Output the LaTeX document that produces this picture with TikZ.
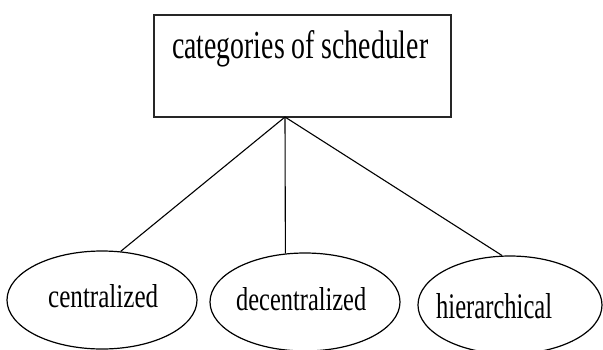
\documentclass[tikz,border=0pt]{standalone}
\usepackage{fontspec}
\setmainfont{Liberation Serif}
\usetikzlibrary{shapes.geometric}
\begin{document}
\begin{tikzpicture}[x=1pt,y=-1pt,
  catbox/.style={draw=black!85,line width=1.8pt},
  cloud/.style={draw=black,line width=1.2pt,ellipse,inner sep=0pt},
  link/.style={draw=black,line width=1.1pt},
  lbl/.style={inner sep=0pt,anchor=base west,text=black}]
\useasboundingbox (0,0) rectangle (603,349);
% top box
\draw[catbox] (154,15) rectangle (451,117);
\node[lbl] (title) at (172,58) {\resizebox{256pt}{28pt}{categories of scheduler}};
\coordinate (apex) at (285,117);
% ellipses
\node[cloud,minimum width=190pt,minimum height=98pt] (cen) at (102,300) {};
\node[cloud,minimum width=190pt,minimum height=98pt] (dec) at (305,302) {};
\node[cloud,minimum width=184pt,minimum height=98pt] (hie) at (510,305) {};
\node[lbl] (tcen) at (48,307) {\resizebox{110pt}{23pt}{centralized}};
\node[lbl] (tdec) at (236,310) {\resizebox{130pt}{23pt}{decentralized}};
\node[lbl] (thie) at (436,318) {\resizebox{116pt}{25pt}{hierarchical}};
% connectors
\draw[link] (apex) -- (cen.69);
\draw[link] (apex) -- (dec.112);
\draw[link] (apex) -- (hie.99);
\end{tikzpicture}
\end{document}
